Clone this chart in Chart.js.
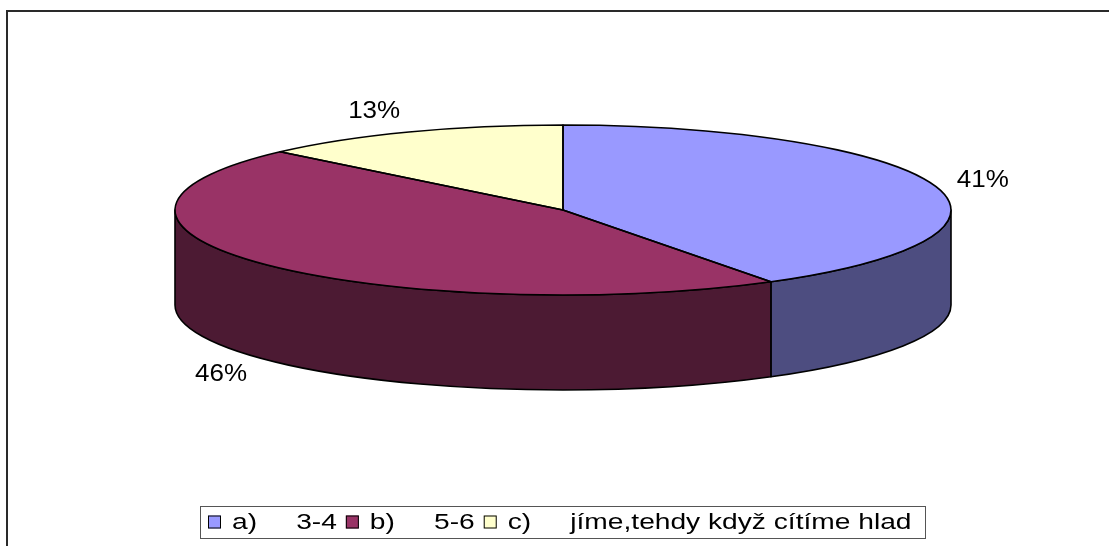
<!DOCTYPE html>
<html>
<head>
<meta charset="utf-8">
<script src="https://cdn.jsdelivr.net/npm/chart.js@4/dist/chart.umd.min.js"></script>
<style>
  html, body { margin: 0; padding: 0; background: #fff; }
  #wrap { position: relative; width: 1109px; height: 546px; }
</style>
</head>
<body>
<div id="wrap"><canvas id="c" width="1109" height="546"></canvas></div>
<script>
// Answer categories and their shares (%)
const categories = ['a)     3-4', 'b)     5-6', 'c)     jíme,tehdy když cítíme hlad'];
const shares = [41, 46, 13];

// Face colours and the darker wall colours of the tilted disc
const topColors = ['#9999FF', '#993366', '#FFFFCC'];
const sideColors = ['#4D4D80', '#4C1A33', '#80806A'];

// Tilted disc geometry on the page
const disc = { cx: 563, cy: 210, rx: 388, ry: 85, depth: 95 };
const FONT = "'Liberation Sans', Arial, sans-serif";

function discTransform(ctx, arc) {
  ctx.translate(disc.cx, disc.cy);
  ctx.scale(disc.rx / arc.outerRadius, disc.ry / arc.outerRadius);
  ctx.translate(-arc.x, -arc.y);
}

function stretchedText(ctx, text, x, y, sx, align) {
  ctx.save();
  ctx.translate(x, y);
  ctx.scale(sx, 1);
  ctx.textAlign = align;
  ctx.fillText(text, 0, 0);
  ctx.restore();
}

const framePlugin = {
  id: 'frame',
  beforeDraw(chart) {
    const ctx = chart.ctx;
    ctx.save();
    ctx.fillStyle = '#fff';
    ctx.fillRect(0, 0, chart.width, chart.height);
    ctx.strokeStyle = '#2a2a2a';
    ctx.lineWidth = 2;
    ctx.beginPath();
    ctx.moveTo(7, chart.height + 5);
    ctx.lineTo(7, 11);
    ctx.lineTo(chart.width + 5, 11);
    ctx.stroke();
    ctx.restore();
  }
};

const pie3d = {
  id: 'pie3d',
  beforeDatasetsDraw(chart) {
    const ctx = chart.ctx;
    const arcs = chart.getDatasetMeta(0).data;
    // walls: only the front half of the rim is visible
    arcs.forEach((arc, i) => {
      const a0 = Math.max(arc.startAngle, 0);
      const a1 = Math.min(arc.endAngle, Math.PI);
      if (a1 <= a0) return;
      ctx.save();
      ctx.beginPath();
      ctx.ellipse(disc.cx, disc.cy, disc.rx, disc.ry, 0, a0, a1, false);
      ctx.lineTo(disc.cx + disc.rx * Math.cos(a1), disc.cy + disc.ry * Math.sin(a1) + disc.depth);
      ctx.ellipse(disc.cx, disc.cy + disc.depth, disc.rx, disc.ry, 0, a1, a0, true);
      ctx.closePath();
      ctx.fillStyle = sideColors[i];
      ctx.fill();
      ctx.lineWidth = 1.6;
      ctx.lineJoin = 'round';
      ctx.strokeStyle = '#000';
      ctx.stroke();
      ctx.restore();
    });
    // top face: squash the library's round pie into the ellipse
    ctx.save();
    discTransform(ctx, arcs[0]);
  },
  afterDatasetsDraw(chart) {
    const ctx = chart.ctx;
    ctx.restore();
    const arcs = chart.getDatasetMeta(0).data;
    // outlines of the top face, stroked without the squash so widths stay even
    arcs.forEach(arc => {
      ctx.save();
      ctx.save();
      discTransform(ctx, arc);
      ctx.beginPath();
      ctx.moveTo(arc.x, arc.y);
      ctx.arc(arc.x, arc.y, arc.outerRadius, arc.startAngle, arc.endAngle);
      ctx.closePath();
      ctx.restore();
      ctx.lineWidth = 1.6;
      ctx.lineJoin = 'round';
      ctx.strokeStyle = '#000';
      ctx.stroke();
      ctx.restore();
    });
    // percentage labels outside the rim
    const data = chart.data.datasets[0].data;
    const total = data.reduce((s, v) => s + v, 0);
    ctx.save();
    ctx.fillStyle = '#000';
    ctx.font = '23px ' + FONT;
    ctx.textBaseline = 'middle';
    const sx = 1.13;
    arcs.forEach((arc, i) => {
      const m = (arc.startAngle + arc.endAngle) / 2;
      const c = Math.cos(m), s = Math.sin(m);
      const txt = Math.round(data[i] / total * 100) + '%';
      const half = ctx.measureText(txt).width * sx / 2;
      const x = disc.cx + (disc.rx + 22) * c + Math.sign(c) * half;
      const y = disc.cy + 1.27 * disc.ry * s + (s > 0 ? disc.depth : 0);
      stretchedText(ctx, txt, x, y + 1, sx, 'center');
    });
    ctx.restore();
  },
  afterDraw(chart) {
    // legend box along the bottom
    const ctx = chart.ctx;
    const labels = chart.data.labels;
    const colors = chart.data.datasets[0].backgroundColor;
    const box = { x: 200, y: 506, w: 725, h: 32 };
    const sx = 1.28, sq = 13;
    ctx.save();
    ctx.strokeStyle = '#555';
    ctx.lineWidth = 1;
    ctx.strokeRect(box.x + 0.5, box.y + 0.5, box.w, box.h);
    ctx.font = '22px ' + FONT;
    ctx.textBaseline = 'middle';
    const midY = box.y + box.h / 2 + 1;
    let x = box.x + 8;
    labels.forEach((lab, i) => {
      ctx.fillStyle = colors[i];
      ctx.fillRect(x, midY - sq / 2 - 1, sq, sq);
      ctx.strokeStyle = '#000';
      ctx.strokeRect(x + 0.5, midY - sq / 2 - 0.5, sq - 1, sq - 1);
      ctx.fillStyle = '#000';
      const tx = x + 24;
      stretchedText(ctx, lab, tx, midY, sx, 'left');
      x = tx + ctx.measureText(lab).width * sx + 9;
    });
    ctx.restore();
  }
};

new Chart(document.getElementById('c'), {
  type: 'pie',
  data: {
    labels: categories,
    datasets: [{
      data: shares,
      backgroundColor: topColors,
      borderWidth: 0
    }]
  },
  options: {
    responsive: false,
    animation: false,
    events: [],
    layout: { padding: 20 },
    plugins: {
      legend: { display: false },
      tooltip: { enabled: false }
    }
  },
  plugins: [framePlugin, pie3d]
});
</script>
</body>
</html>
